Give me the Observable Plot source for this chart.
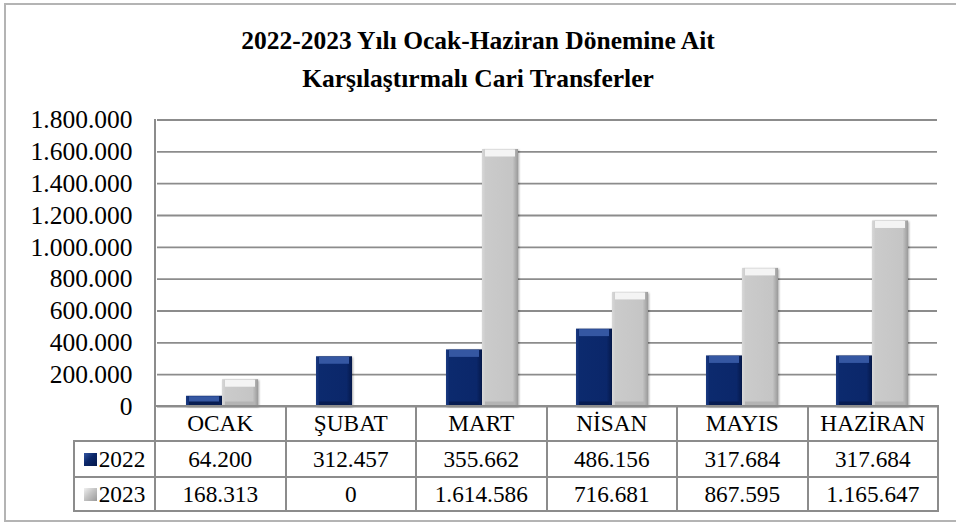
<!DOCTYPE html>
<html><head><meta charset="utf-8">
<script src="https://cdn.jsdelivr.net/npm/d3@7"></script>
<script src="https://cdn.jsdelivr.net/npm/@observablehq/plot@0.6"></script>
<style>
body{margin:0;background:#fff;width:956px;height:525px;overflow:hidden;position:relative;font-family:"Liberation Serif","Times New Roman",serif;color:#000;}
#frame{position:absolute;left:4px;top:3px;width:960px;height:519px;border:2px solid #b4b4b4;box-sizing:border-box;}
#title{position:absolute;left:0;width:956px;top:22.4px;text-align:center;font-weight:bold;font-size:25.5px;line-height:38px;font-family:"Liberation Serif",serif;}
#chart{position:absolute;left:0;top:100px;}
#chart svg, #chart svg text{font-family:"Liberation Serif",serif !important;}
#chart svg g[aria-label="bar"] rect{filter:drop-shadow(1.5px 1px 1px rgba(0,0,0,0.35));}
#axisline{position:absolute;left:154px;top:119px;width:2px;height:290px;background:#8c8c8c;}
.cell{position:absolute;box-sizing:border-box;border:2px solid #8c8c8c;display:flex;align-items:center;justify-content:center;font-size:23.3px;white-space:nowrap;font-family:"Liberation Serif",serif;}
.sw{display:inline-block;width:13px;height:13px;margin-right:2px;}
</style></head>
<body>
<div id="frame"></div>
<div id="title">2022-2023 Yılı Ocak-Haziran Dönemine Ait<br>Karşılaştırmalı Cari Transferler</div>
<div id="chart"></div>
<div id="axisline"></div>
<div id="table"></div>
<script>
const months = ["OCAK","ŞUBAT","MART","NİSAN","MAYIS","HAZİRAN"];
const years = ["2022","2023"];
const values2022 = [64200,312457,355662,486156,317684,317684];
const values2023 = [168313,0,1614586,716681,867595,1165647];
const yTicks = [0,200000,400000,600000,800000,1000000,1200000,1400000,1600000,1800000];

const data = months.flatMap((m,i)=>[
  {month:m, year:"2022", value:values2022[i]},
  {month:m, year:"2023", value:values2023[i]}
]);
const fmt = d3.formatLocale({decimal:",",thousands:".",grouping:[3],currency:["",""]}).format(",d");

const chart = Plot.plot({
  width:956, height:316, marginTop:19.5, marginBottom:10, marginLeft:155, marginRight:17.5,
  style:{fontFamily:"'Liberation Serif', serif", fontSize:"25.5px", color:"#000", background:"transparent", overflow:"visible"},
  fx:{domain:months, axis:null, padding:0},
  x:{domain:years, axis:null, paddingInner:0, paddingOuter:0.764},
  y:{domain:[0,1800000], axis:null},
  color:{domain:years, range:["url(#g22)","url(#g23)"]},
  marks:[
    Plot.gridY(yTicks,{stroke:"#8c8c8c", strokeOpacity:1, strokeWidth:1.8}),
    Plot.axisY(yTicks,{tickSize:0, tickPadding:25, tickFormat:fmt, label:null, fontSize:25.5}),
    Plot.barY(data,{fx:"month", x:"year", y:"value", fill:"year"}),
    Plot.tickY(data.filter(d=>d.year==="2022" && d.value>0),{fx:"month", x:"year", y:"value", stroke:"#3557a2", strokeWidth:7, dy:3.5, insetLeft:3, insetRight:3}),
    Plot.tickY(data.filter(d=>d.year==="2023" && d.value>0),{fx:"month", x:"year", y:"value", stroke:"#f4f4f4", strokeWidth:7, dy:3.5, insetLeft:3, insetRight:3}),
    Plot.tickY(data.filter(d=>d.value>0),{fx:"month", x:"year", y:0, stroke:d=>d.year==="2022"?"#081d52":"#b4b4b4", strokeWidth:5, dy:-2.5, insetLeft:3, insetRight:3})
  ]
});
chart.insertAdjacentHTML("afterbegin", `<defs>
<linearGradient id="g22" x1="0" y1="0" x2="1" y2="0">
<stop offset="0" stop-color="#1b3a82"/><stop offset="0.1" stop-color="#0c2a6e"/><stop offset="0.85" stop-color="#0b276a"/><stop offset="1" stop-color="#05184a"/>
</linearGradient>
<linearGradient id="g23" x1="0" y1="0" x2="1" y2="0">
<stop offset="0" stop-color="#d8d8d8"/><stop offset="0.1" stop-color="#cbcbcb"/><stop offset="0.85" stop-color="#c5c5c5"/><stop offset="1" stop-color="#9a9a9a"/>
</linearGradient></defs>`);
document.getElementById("chart").appendChild(chart);

// data table
const tbl = document.getElementById("table");
const colX = i => 155 + i*130.5;
const rowsY = [406, 441, 477, 511];
function cell(x0,x1,y0,y1,html){
  const d=document.createElement("div");
  d.className="cell";
  d.style.left=(x0-1)+"px"; d.style.top=(y0-1)+"px";
  d.style.width=(x1-x0+2)+"px"; d.style.height=(y1-y0+2)+"px";
  d.innerHTML=html; tbl.appendChild(d);
}
months.forEach((m,i)=>cell(colX(i),colX(i+1),rowsY[0],rowsY[1],m));
const series=[values2022,values2023];
const sw=["linear-gradient(135deg,#3557a2,#0b276a 45%,#05184a)","linear-gradient(135deg,#f0f0f0,#c5c5c5 45%,#9a9a9a)"];
years.forEach((y,r)=>{
  cell(74,155,rowsY[r+1],rowsY[r+2],`<span class="sw" style="background:${sw[r]}"></span>${y}`);
  series[r].forEach((v,i)=>cell(colX(i),colX(i+1),rowsY[r+1],rowsY[r+2],fmt(v)));
});
</script>
</body></html>
